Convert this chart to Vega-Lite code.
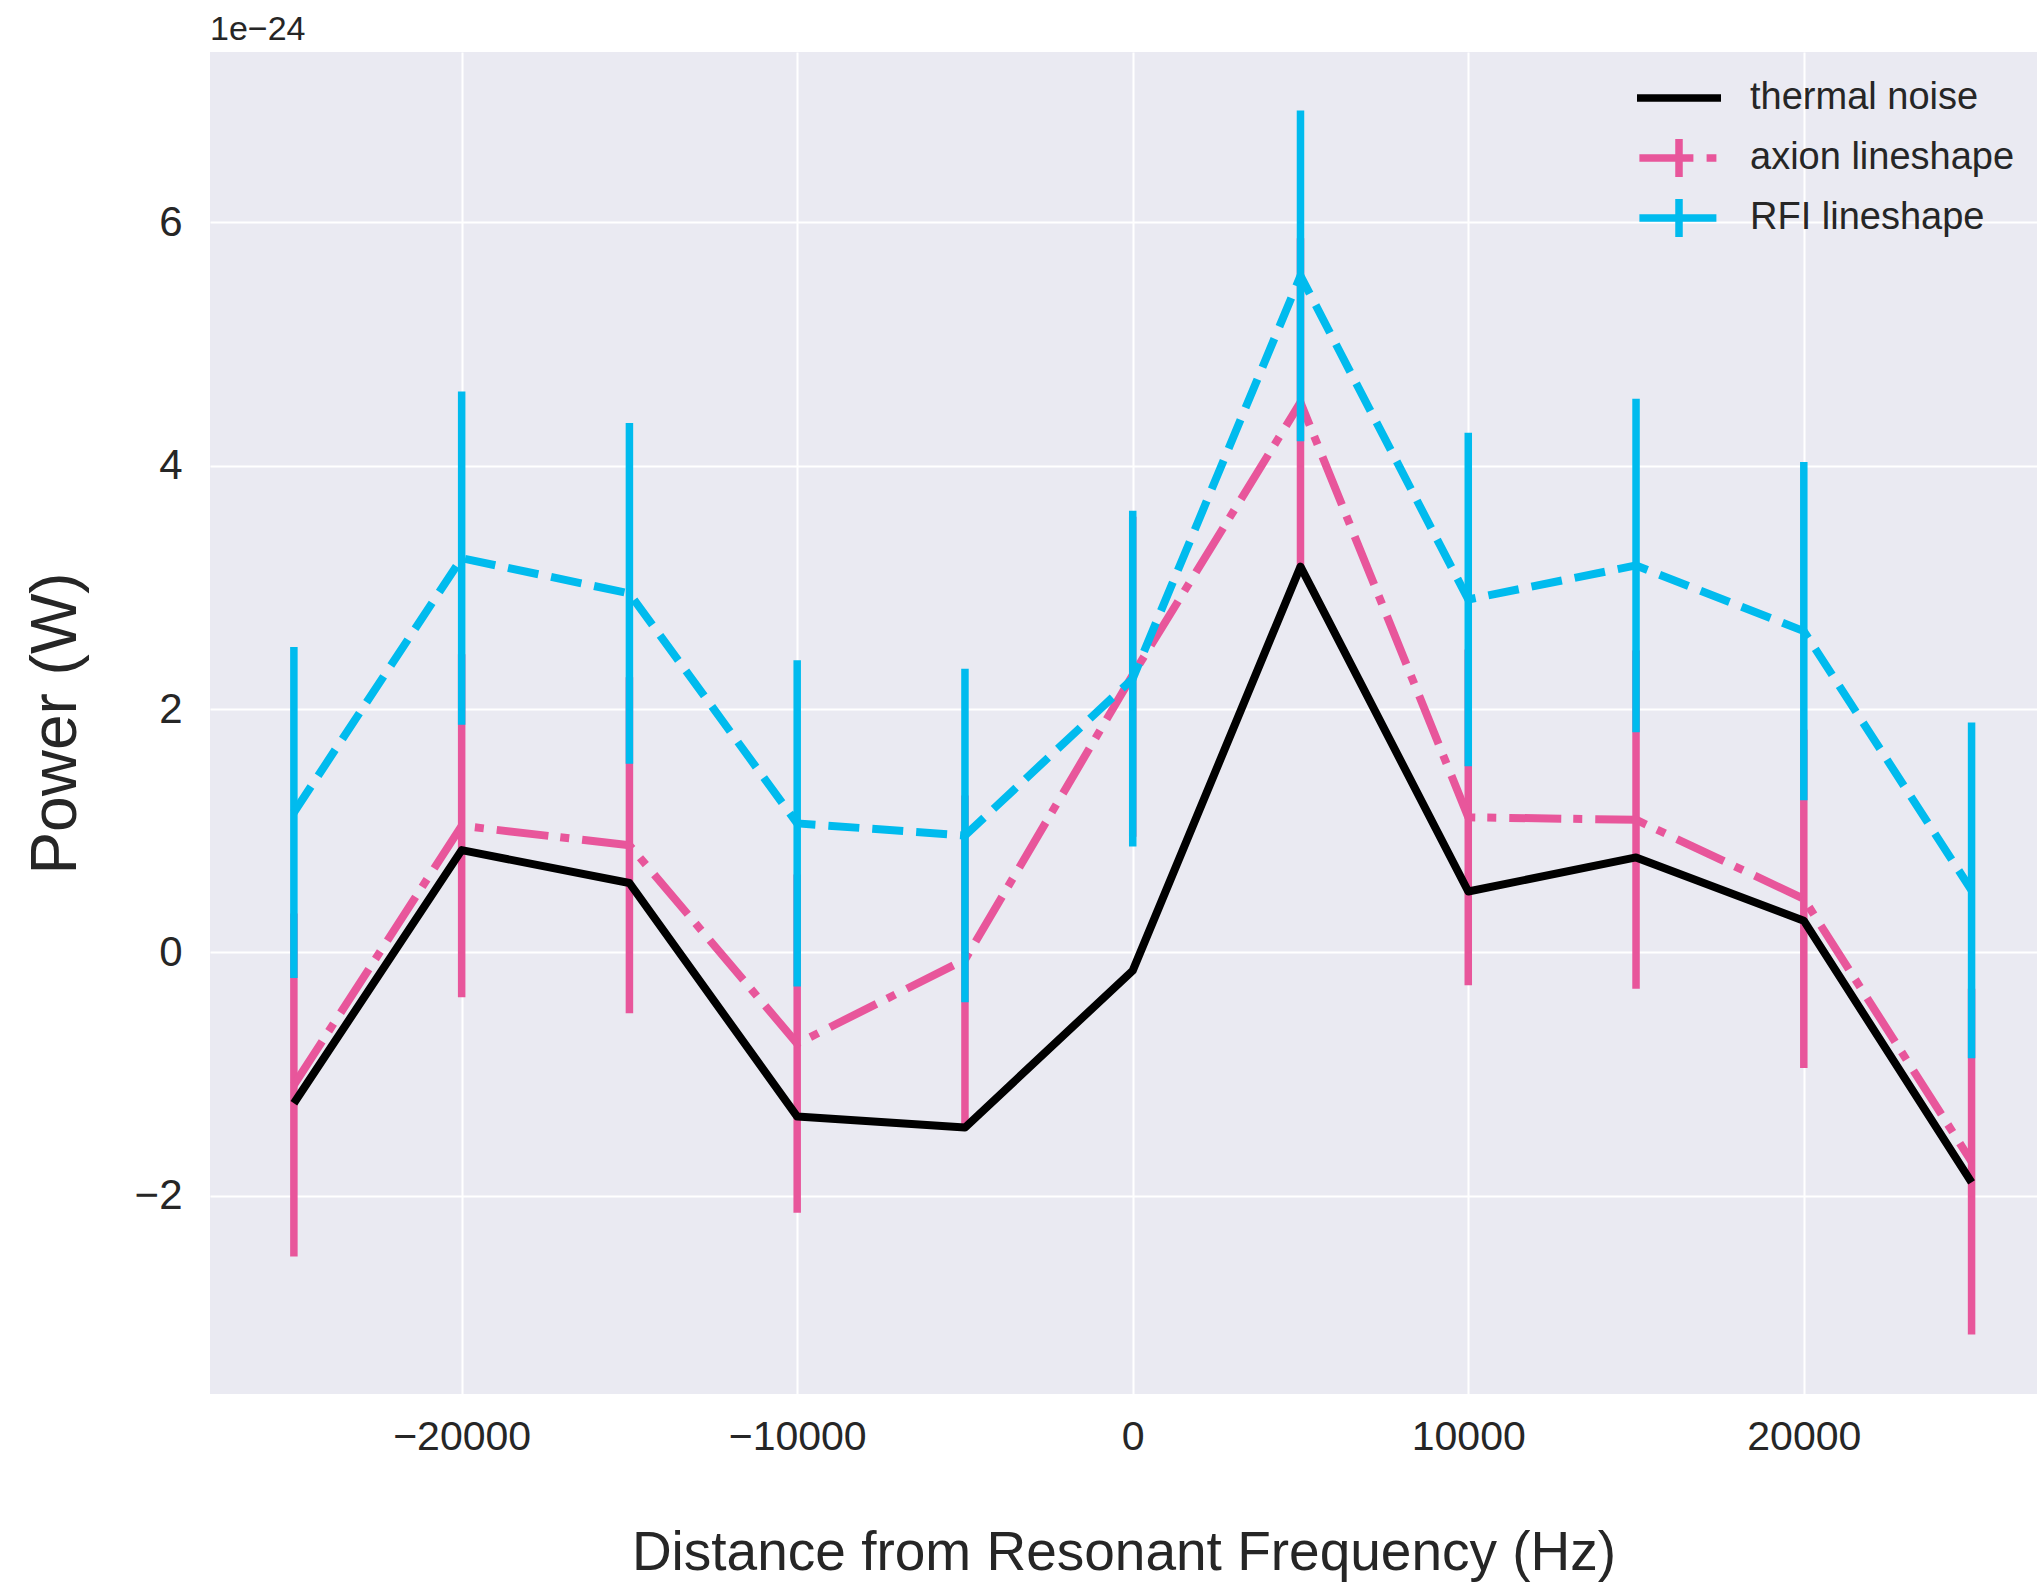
{
  "$schema": "https://vega.github.io/schema/vega-lite/v6.json",
  "width": 1827,
  "height": 1342,
  "autosize": {"type": "none"},
  "padding": {"left": 210, "top": 52, "right": 0, "bottom": 188},
  "background": "white",
  "title": {
    "text": "1e\u221224",
    "anchor": "start",
    "frame": "group",
    "fontSize": 34,
    "fontWeight": "normal",
    "font": "Liberation Sans",
    "color": "#262626",
    "offset": 5
  },
  "config": {
    "view": {"fill": "#eaeaf2", "stroke": null},
    "axis": {
      "grid": true,
      "gridColor": "white",
      "gridWidth": 2,
      "domain": false,
      "ticks": false,
      "labelFont": "Liberation Sans",
      "labelColor": "#262626",
      "titleFont": "Liberation Sans",
      "titleColor": "#262626",
      "titleFontWeight": "normal"
    }
  },
  "data": {
    "values": [
      {"series": "thermal noise", "freq": -25000, "power": -1.24},
      {"series": "thermal noise", "freq": -20000, "power": 0.84},
      {"series": "thermal noise", "freq": -15000, "power": 0.57},
      {"series": "thermal noise", "freq": -10000, "power": -1.35},
      {"series": "thermal noise", "freq": -5000, "power": -1.44},
      {"series": "thermal noise", "freq": 0, "power": -0.15},
      {"series": "thermal noise", "freq": 5000, "power": 3.17},
      {"series": "thermal noise", "freq": 10000, "power": 0.50},
      {"series": "thermal noise", "freq": 15000, "power": 0.78},
      {"series": "thermal noise", "freq": 20000, "power": 0.26},
      {"series": "thermal noise", "freq": 25000, "power": -1.89},

      {"series": "axion lineshape", "freq": -25000, "power": -1.09, "lo": -2.50, "hi": 0.32},
      {"series": "axion lineshape", "freq": -20000, "power": 1.04, "lo": -0.37, "hi": 2.45},
      {"series": "axion lineshape", "freq": -15000, "power": 0.88, "lo": -0.50, "hi": 2.26},
      {"series": "axion lineshape", "freq": -10000, "power": -0.75, "lo": -2.14, "hi": 0.64},
      {"series": "axion lineshape", "freq": -5000, "power": -0.06, "lo": -1.41, "hi": 1.29},
      {"series": "axion lineshape", "freq": 0, "power": 2.28, "lo": 0.95, "hi": 3.58},
      {"series": "axion lineshape", "freq": 5000, "power": 4.52, "lo": 3.17, "hi": 5.87},
      {"series": "axion lineshape", "freq": 10000, "power": 1.11, "lo": -0.27, "hi": 2.49},
      {"series": "axion lineshape", "freq": 15000, "power": 1.09, "lo": -0.30, "hi": 2.48},
      {"series": "axion lineshape", "freq": 20000, "power": 0.44, "lo": -0.95, "hi": 1.83},
      {"series": "axion lineshape", "freq": 25000, "power": -1.72, "lo": -3.14, "hi": -0.30},

      {"series": "RFI lineshape", "freq": -25000, "power": 1.15, "lo": -0.21, "hi": 2.51},
      {"series": "RFI lineshape", "freq": -20000, "power": 3.24, "lo": 1.87, "hi": 4.61},
      {"series": "RFI lineshape", "freq": -15000, "power": 2.95, "lo": 1.55, "hi": 4.35},
      {"series": "RFI lineshape", "freq": -10000, "power": 1.06, "lo": -0.28, "hi": 2.40},
      {"series": "RFI lineshape", "freq": -5000, "power": 0.96, "lo": -0.41, "hi": 2.33},
      {"series": "RFI lineshape", "freq": 0, "power": 2.25, "lo": 0.87, "hi": 3.63},
      {"series": "RFI lineshape", "freq": 5000, "power": 5.56, "lo": 4.20, "hi": 6.92},
      {"series": "RFI lineshape", "freq": 10000, "power": 2.90, "lo": 1.53, "hi": 4.27},
      {"series": "RFI lineshape", "freq": 15000, "power": 3.18, "lo": 1.81, "hi": 4.55},
      {"series": "RFI lineshape", "freq": 20000, "power": 2.64, "lo": 1.25, "hi": 4.03},
      {"series": "RFI lineshape", "freq": 25000, "power": 0.51, "lo": -0.87, "hi": 1.89}
    ]
  },
  "encoding": {
    "x": {
      "field": "freq",
      "type": "quantitative",
      "scale": {"domain": [-27500, 26950], "nice": false, "zero": false},
      "axis": {
        "values": [-20000, -10000, 0, 10000, 20000],
        "format": "d",
        "labelFontSize": 41,
        "labelPadding": 23,
        "title": "Distance from Resonant Frequency (Hz)",
        "titleFontSize": 55,
        "titlePadding": 69
      }
    },
    "y": {
      "field": "power",
      "type": "quantitative",
      "scale": {"domain": [-3.63, 7.40], "nice": false, "zero": false},
      "axis": {
        "values": [-2, 0, 2, 4, 6],
        "labelFontSize": 42,
        "labelPadding": 28,
        "title": "Power (W)",
        "titleFontSize": 64,
        "titlePadding": 46
      }
    },
    "color": {
      "field": "series",
      "type": "nominal",
      "scale": {
        "domain": ["thermal noise", "axion lineshape", "RFI lineshape"],
        "range": ["#000000", "#e8569b", "#00bbee"]
      },
      "legend": {
        "title": null,
        "orient": "top-right",
        "offset": 22,
        "padding": 0,
        "symbolSize": 1600,
        "symbolStrokeWidth": 7.5,
        "labelFontSize": 38,
        "labelFont": "Liberation Sans",
        "labelColor": "#262626",
        "labelOffset": 47,
        "labelLimit": 0,
        "rowPadding": -8,
        "encode": {
          "symbols": {
            "update": {
              "shape": {"signal": "datum.value === 'thermal noise' ? 'M-2.1,0H2.1M0,-0.95L0,-0.95M0,0.95L0,0.95' : datum.value === 'axion lineshape' ? 'M-1.98,0H0.72M1.38,0H1.87M0,-0.95V0.95' : 'M-1.98,0H1.87M0,-0.95V0.95'"},
              "strokeDash": {"value": []},
              "fill": {"value": "transparent"},
              "stroke": {"scale": "color", "field": "value"},
              "strokeWidth": {"value": 7.5}
            }
          }
        }
      }
    }
  },
  "layer": [
    {
      "transform": [{"filter": "datum.series === 'axion lineshape'"}],
      "mark": {"type": "rule", "strokeWidth": 7.5},
      "encoding": {"y": {"field": "lo", "type": "quantitative"}, "y2": {"field": "hi"}}
    },
    {
      "transform": [{"filter": "datum.series === 'axion lineshape'"}],
      "mark": {"type": "line", "strokeWidth": 8, "strokeDash": [52, 12, 9, 13], "strokeJoin": "round"},
      "encoding": {}
    },
    {
      "transform": [{"filter": "datum.series === 'RFI lineshape'"}],
      "mark": {"type": "rule", "strokeWidth": 7.5},
      "encoding": {"y": {"field": "lo", "type": "quantitative"}, "y2": {"field": "hi"}}
    },
    {
      "transform": [{"filter": "datum.series === 'RFI lineshape'"}],
      "mark": {"type": "line", "strokeWidth": 8, "strokeDash": [31, 13], "strokeJoin": "round"},
      "encoding": {}
    },
    {
      "transform": [{"filter": "datum.series === 'thermal noise'"}],
      "mark": {"type": "line", "strokeWidth": 8, "strokeJoin": "round"},
      "encoding": {}
    }
  ]
}
